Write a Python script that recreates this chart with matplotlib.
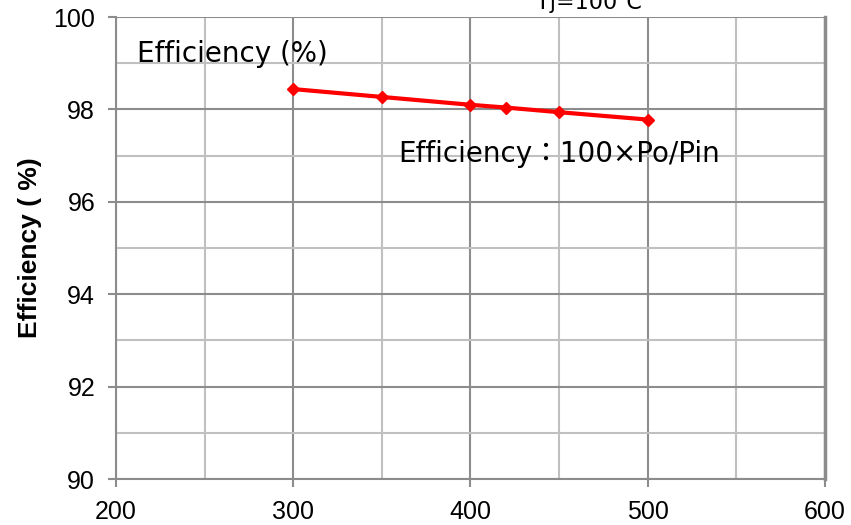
import matplotlib.pyplot as plt
from matplotlib.ticker import MultipleLocator

# Efficiency vs output power
power = [300, 350, 400, 420, 450, 500]
efficiency = [98.44, 98.27, 98.10, 98.04, 97.94, 97.78]

xticks = [200, 300, 400, 500, 600]
yticks = [90, 92, 94, 96, 98, 100]

txt_font = ['DejaVu Sans', 'Noto Sans CJK JP']

fig = plt.figure(figsize=(8.51, 5.25), dpi=100)
ax = fig.add_axes([0.1363, 0.0876, 0.8331, 0.88])

ax.plot(power, efficiency, color='#ff0000', lw=3, marker='D', ms=6.5, zorder=3)

ax.set_xlim(200, 600)
ax.set_ylim(90, 100)
ax.set_xticks(xticks)
ax.set_yticks(yticks)
ax.xaxis.set_minor_locator(MultipleLocator(50))
ax.yaxis.set_minor_locator(MultipleLocator(1))
ax.grid(which='major', color='#8c8c8c', lw=1.5)
ax.grid(which='minor', color='#c0c0c0', lw=1.5)
ax.set_axisbelow(True)

for side in ['top', 'right']:
    ax.spines[side].set_visible(False)
ax.spines['left'].set_color('#8c8c8c')
ax.spines['bottom'].set_color('#8c8c8c')
ax.spines['left'].set_linewidth(1.5)
ax.spines['bottom'].set_linewidth(1.5)
ax.axvline(600, color='#8c8c8c', lw=2.5, clip_on=False)

ax.tick_params(which='major', direction='out', length=6, width=1.5,
               color='#8c8c8c', labelsize=18, pad=9)
ax.tick_params(which='minor', length=0)
for lab in ax.get_xticklabels() + ax.get_yticklabels():
    lab.set_family(['Liberation Sans', 'DejaVu Sans'])

ax.set_ylabel('Efficiency ( %)', fontsize=19, fontweight='bold',
              family=['Liberation Sans', 'DejaVu Sans'], labelpad=8)

ax.text(211.8, 99.2, 'Efficiency (%)', fontsize=20, family=txt_font, va='center')
ax.text(359, 97.04, 'Efficiency：100×Po/Pin', fontsize=20, family=txt_font, va='center')
ax.text(467, 100.3, 'Tj=100℃', fontsize=16, family=txt_font, ha='center', va='center',
        clip_on=False)

fig.savefig('out.png', dpi=100)
